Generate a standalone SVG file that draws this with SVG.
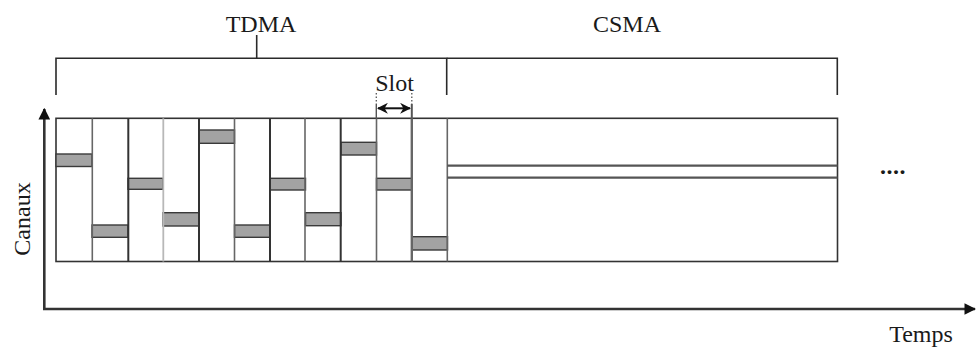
<svg xmlns="http://www.w3.org/2000/svg" width="976" height="347" viewBox="0 0 976 347">
<defs>
<style>
.t{font-family:"Liberation Serif","Times New Roman",serif;font-size:24px;fill:#1a1a1a}
.br{fill:none;stroke:#2a2a2a;stroke-width:1.6}
.ax{fill:none;stroke:#333;stroke-width:2.6}
.frame{fill:#fff;stroke:#333;stroke-width:1.6}
.dk{stroke:#333;stroke-width:2}
.md{stroke:#666;stroke-width:1.6}
.lt{stroke:#b8b8b8;stroke-width:1.8}
.slot{fill:#a3a3a3;stroke:#3a3a3a;stroke-width:1.4}
.cs{stroke:#555;stroke-width:2.2}
</style>
<marker id="ah" viewBox="0 0 10 10" refX="9" refY="5" markerWidth="4.5" markerHeight="4.5" orient="auto-start-reverse" markerUnits="strokeWidth">
<path d="M0,0 L10,5 L0,10 z" fill="#111"/>
</marker>
<marker id="sa" viewBox="0 0 10 10" refX="9" refY="5" markerWidth="5.5" markerHeight="5.5" orient="auto-start-reverse" markerUnits="strokeWidth">
<path d="M0,0 L10,5 L0,10 L3,5 z" fill="#111"/>
</marker>
</defs>

<g id="labels">
<text class="t" x="261" y="31.5" text-anchor="middle">TDMA</text>
<text class="t" x="627" y="31.5" text-anchor="middle">CSMA</text>
<text class="t" x="394.5" y="90.5" text-anchor="middle">Slot</text>
<text class="t" x="921" y="341.5" text-anchor="middle">Temps</text>
<text class="t" transform="translate(30,219) rotate(-90)" text-anchor="middle">Canaux</text>
<text class="t" x="893" y="173.5" text-anchor="middle" style="font-weight:bold;letter-spacing:0.5px">....</text>
</g>

<g id="brackets">
<path class="br" d="M56,95 V58.3 H446.7 V95"/>
<path class="br" d="M256.7,35 V58.3"/>
<path class="br" d="M446.7,58.3 H837.3 V95"/>
</g>

<g id="frame">
<rect class="frame" x="56" y="118.3" width="781.5" height="143.2"/>
</g>

<g id="slots">
<rect class="slot" x="56" y="154" width="36" height="12.5"/>
<rect class="slot" x="92" y="225" width="36" height="12.3"/>
<rect class="slot" x="128" y="178.3" width="35" height="11"/>
<rect class="slot" x="163" y="212.7" width="36" height="13.3"/>
<rect class="slot" x="199" y="130" width="35.5" height="13.3"/>
<rect class="slot" x="234.5" y="225" width="35.5" height="12.3"/>
<rect class="slot" x="270" y="178.3" width="35.5" height="11.7"/>
<rect class="slot" x="305.5" y="212.7" width="35.5" height="13"/>
<rect class="slot" x="341" y="142.3" width="35.5" height="12.7"/>
<rect class="slot" x="376.5" y="178.3" width="35.5" height="11.7"/>
<rect class="slot" x="412" y="236.7" width="35.5" height="13.3"/>
</g>

<g id="dividers">
<line class="md" x1="92.3" y1="118.3" x2="92.3" y2="261.5"/>
<line class="dk" x1="128.3" y1="118.3" x2="128.3" y2="261.5"/>
<line class="lt" x1="163.3" y1="118.3" x2="163.3" y2="261.5"/>
<line class="dk" x1="199" y1="118.3" x2="199" y2="261.5"/>
<line class="md" x1="234.5" y1="118.3" x2="234.5" y2="261.5"/>
<line class="dk" x1="270" y1="118.3" x2="270" y2="261.5"/>
<line class="md" x1="305" y1="118.3" x2="305" y2="261.5"/>
<line class="dk" x1="340.7" y1="118.3" x2="340.7" y2="261.5"/>
<line class="md" x1="376.5" y1="118.3" x2="376.5" y2="261.5"/>
<line class="md" x1="411.8" y1="118.3" x2="411.8" y2="261.5" style="stroke-width:2.4"/>
<line class="md" x1="447.3" y1="118.3" x2="447.3" y2="261.5"/>
</g>

<g id="csma">
<line class="cs" x1="447.3" y1="165.7" x2="837.5" y2="165.7"/>
<line class="cs" x1="447.3" y1="177.7" x2="837.5" y2="177.7"/>
</g>

<g id="connectors">
<line x1="376.3" y1="93" x2="376.3" y2="104" stroke="#555" stroke-width="1.3" stroke-dasharray="1.5,2"/>
<line x1="411.8" y1="93" x2="411.8" y2="104" stroke="#555" stroke-width="1.3" stroke-dasharray="1.5,2"/>
<line x1="376.3" y1="104" x2="376.3" y2="118.3" stroke="#555" stroke-width="1.4"/>
<line x1="411.8" y1="104" x2="411.8" y2="118.3" stroke="#555" stroke-width="2"/>
<line x1="378" y1="108.3" x2="410" y2="108.3" stroke="#111" stroke-width="2" marker-start="url(#sa)" marker-end="url(#sa)"/>
<line class="ax" x1="44.3" y1="309.5" x2="44.3" y2="109" marker-end="url(#ah)"/>
<line class="ax" x1="43" y1="309" x2="975" y2="309" marker-end="url(#ah)"/>
</g>
</svg>
